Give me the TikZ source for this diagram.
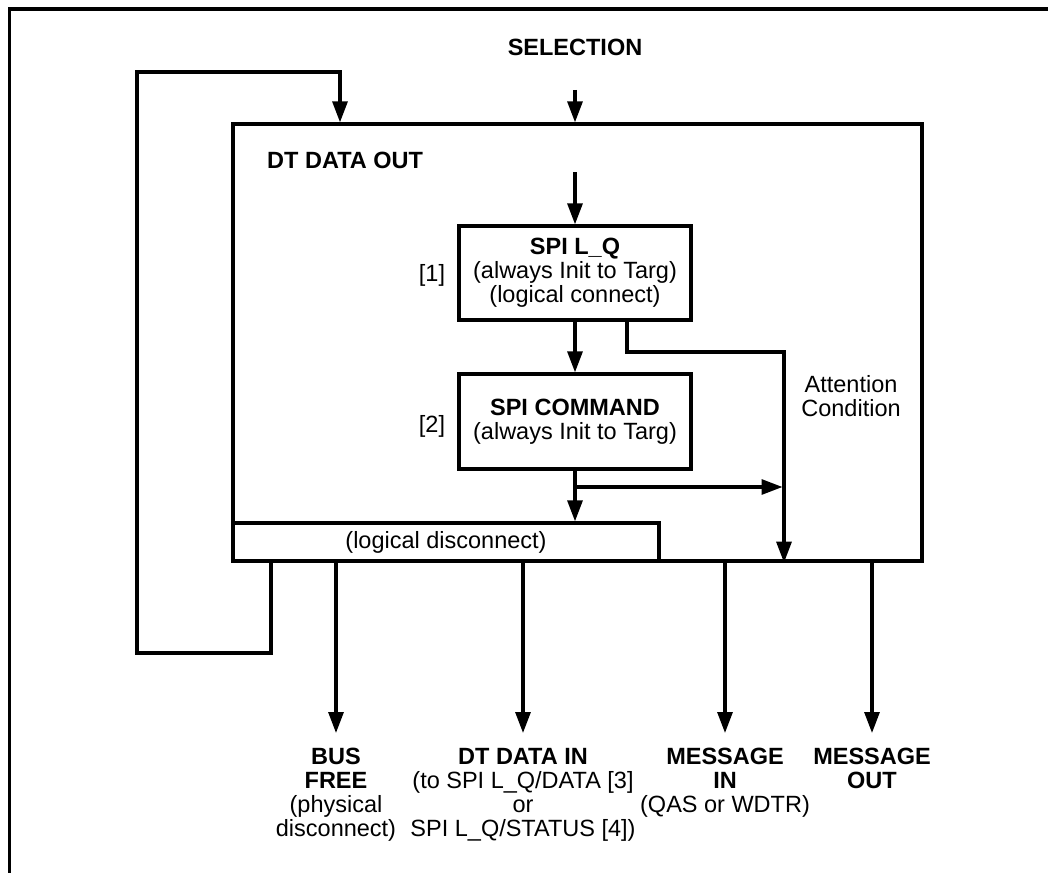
\documentclass[tikz,border=0pt]{standalone}
\usepackage{fontspec}
\setmainfont{Liberation Sans}
\usetikzlibrary{arrows.meta,calc}
\begin{document}
\begin{tikzpicture}[x=1pt,y=-1pt,
  box/.style={draw, line width=3.3pt, inner sep=0pt, align=center},
  txt/.style={font=\fontsize{23.5}{24}\selectfont, inner sep=0pt, align=center},
  btxt/.style={txt, font=\fontsize{23.5}{24}\selectfont\bfseries},
  arr/.style={-{Triangle[length=21pt 0 0,width=15pt 0 0]}, line width=3.1pt}]
\useasboundingbox (0,0) rectangle (1048,872);
% outer frame (only top and left visible)
\draw[line width=3.5pt] (9.5,873) -- (9.5,9) -- (1049,9);

% boxes
\node[box, minimum width=689pt, minimum height=437pt] (main) at (577.5,342.5) {};
\node[box, txt, minimum width=426pt, minimum height=38pt] (disc) at (446,542) {(logical disconnect)};
\node[box, txt, minimum width=232pt, minimum height=94pt] (lq) at (575,273)
  {\textbf{SPI L\_Q}\\(always Init to Targ)\\(logical connect)};
\node[box, txt, minimum width=232pt, minimum height=95pt] (cmd) at (575,421.5)
  {\textbf{SPI COMMAND}\\(always Init to Targ)};

% labels
\node[btxt] (sel) at (575,47) {SELECTION};
\node[btxt, anchor=west] (dtout) at (267,160) {DT DATA OUT};
\node[txt] (n1) at (432,275) {[1]};
\node[txt] (n2) at (432,426) {[2]};
\node[txt] (attn) at (851,396) {Attention\\Condition};

\node[txt, anchor=north] (bus) at (336,748) {\textbf{BUS}\\\textbf{FREE}\\(physical\\disconnect)};
\node[txt, anchor=north] (dtin) at (523,748) {\textbf{DT DATA IN}\\(to SPI L\_Q/DATA [3]\\or\\SPI L\_Q/STATUS [4])};
\node[txt, anchor=north] (msgin) at (725,748) {\textbf{MESSAGE}\\\textbf{IN}\\(QAS or WDTR)};
\node[txt, anchor=north] (msgout) at (872,748) {\textbf{MESSAGE}\\\textbf{OUT}};

% coordinates
\coordinate (selstart) at (575,90);
\coordinate (instart) at (575,172);
\coordinate (branch) at (575,487);
\coordinate (attx) at (784,352);
\coordinate (fbA) at (271,653);
\coordinate (fbB) at (137,653);
\coordinate (fbC) at (137,72);
\coordinate (fbD) at (340,72);

% connectors
\draw[arr] (selstart) -- (selstart |- main.north);
\draw[arr] (instart) -- (lq.north);
\draw[arr] (lq) -- (cmd);
\draw[arr] (cmd.south) -- (cmd.south |- disc.north);
\draw[arr] (branch) -- ([xshift=-1.5pt]branch -| attx);
\draw[arr] ([xshift=52pt]lq.south) |- (attx) -- (attx |- main.south);
\draw[arr] (disc.south -| fbA) -- (fbA) -- (fbB) -- (fbC) -- (fbD) -- (fbD |- main.north);

\draw[arr] (main.south -| bus) -- ([yshift=15pt]bus.north);
\draw[arr] (main.south -| dtin) -- ([yshift=15pt]dtin.north);
\draw[arr] (main.south -| msgin) -- ([yshift=15pt]msgin.north);
\draw[arr] (main.south -| msgout) -- ([yshift=15pt]msgout.north);
\end{tikzpicture}
\end{document}
